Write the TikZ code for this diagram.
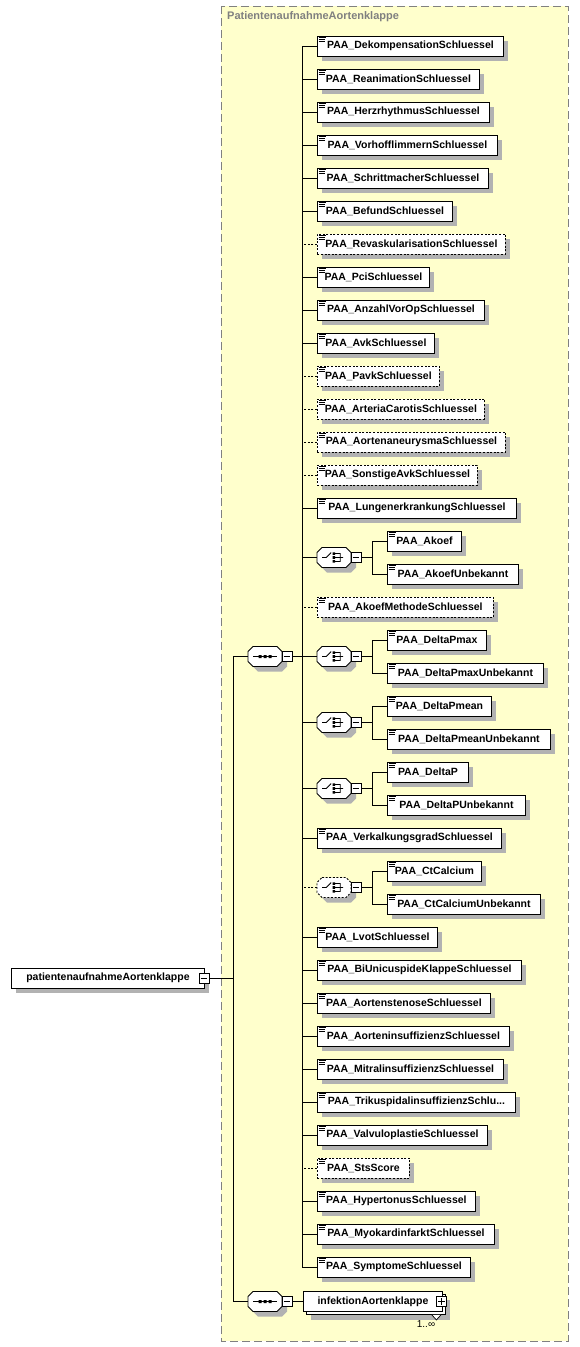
\documentclass[tikz,border=0pt]{standalone}
\usepackage{fontspec}
\setmainfont{Liberation Sans}
\definecolor{bgyellow}{RGB}{255,255,204}
\definecolor{framegray}{RGB}{128,128,128}
\definecolor{dropgray}{RGB}{178,178,178}
\tikzset{
  conn/.style={line width=0.9pt},
  optional/.style={dash pattern=on 2pt off 1.6pt},
  boxbase/.style={draw, fill=white, line width=0.9pt, minimum height=20pt, inner sep=0pt, anchor=west, font=\bfseries\fontsize{10.5}{12}\selectfont},
  octanchor/.style={draw=none, minimum width=34pt, minimum height=20pt, inner sep=0pt, anchor=west},
  octaline/.style={draw, fill=white, line width=0.9pt},
  togglebox/.style={draw, fill=white, line width=0.8pt, minimum size=10pt, inner sep=0pt},
  mark line/.style={line width=0.8pt},
}
\newcommand\boxshadow[3]{\fill[dropgray] (#1+5,#2-5) rectangle (#1+#3+5,#2+15);}
\newcommand\octpath[2]{(#1+5,#2-10) -- (#1+29,#2-10) -- (#1+34,#2-5) -- (#1+34,#2+5) -- (#1+29,#2+10) -- (#1+5,#2+10) -- (#1,#2+5) -- (#1,#2-5) -- cycle}
\newcommand\octnode[4][]{%
  \fill[dropgray] \octpath{#3+5}{#4+5};
  \path[octaline,#1] \octpath{#3}{#4};
  \node[octanchor] (#2) at (#3,#4) {};}
\newcommand\elicon[1]{\draw[line width=0.5pt] ([shift={(1.5,2)}]#1.north west) -- ++(7,0) ([shift={(1.5,4)}]#1.north west) -- ++(6,0) ([shift={(1.5,6)}]#1.north west) -- ++(6,0);}
\newcommand\mel[5][]{%
  \boxshadow{317}{#3}{#4}
  \node[boxbase,#1,minimum width=#4pt] (#2) at (317,#3) {#5};
  \elicon{#2}
  \draw[conn,#1] (#2.west) -- (#2.west -| spine);}
\newcommand\sel[4]{%
  \boxshadow{387}{#2}{#3}
  \node[boxbase,minimum width=#3pt] (#1) at (387,#2) {#4};
  \elicon{#1}}
\newcommand\minusbox[2]{\node[togglebox] (#1) at #2 {};
  \draw[mark line] ([xshift=2pt]#1.west) -- ([xshift=-2pt]#1.east);}
\newcommand\plusbox[2]{\node[togglebox] (#1) at #2 {};
  \draw[mark line] ([xshift=2pt]#1.west) -- ([xshift=-2pt]#1.east)
    ([yshift=2pt]#1.south) -- ([yshift=-2pt]#1.north);}
\newcommand\choiceicon[1]{%
  \draw[line width=0.8pt] ([shift={(-12,0)}]#1.center) -- ++(4,0) -- ++(5,-5)
    ([shift={(1,-4)}]#1.center) -- ++(5,0) -- ++(0,8) -- ++(-5,0)
    ([shift={(1,0)}]#1.center) -- ++(8,0);
  \fill ([shift={(-1.7,-5.2)}]#1.center) rectangle ++(2.6,2.6)
        ([shift={(-1.7,-1.3)}]#1.center) rectangle ++(2.6,2.6)
        ([shift={(-1.7,2.6)}]#1.center) rectangle ++(2.6,2.6);}
\newcommand\seqicon[1]{%
  \draw[line width=0.8pt] ([shift={(-12,0)}]#1.center) -- ++(24,0);
  \fill ([shift={(-6.5,-1.5)}]#1.center) rectangle ++(3,3)
        ([shift={(-1.5,-1.5)}]#1.center) rectangle ++(3,3)
        ([shift={(3.5,-1.5)}]#1.center) rectangle ++(3,3);}
\newcommand\chc[9][]{%
  \octnode[#1]{#2}{317}{#3+16.5}
  \choiceicon{#2}
  \minusbox{#2m}{(356,#3+16.5)}
  \coordinate (#2j) at (372,#3+16.5);
  \draw[conn,#1] (#2.west) -- (#2.west -| spine);
  \draw[conn] (#2m.east) -- (#2j);
  \sel{#4}{#3}{#5}{#6}
  \sel{#7}{#3+33}{#8}{#9}
  \draw[conn] (#4.west) -- (#4.west -| #2j) -- (#7.west -| #2j) -- (#7.west);}
\begin{document}
\begin{tikzpicture}[x=1pt,y=-1pt]
\useasboundingbox (0,0) rectangle (579,1347);
\draw[framegray, fill=bgyellow, line width=1pt, dash pattern=on 8pt off 4pt] (221,6) rectangle (568,1341);
\node[anchor=west, text=framegray, font=\bfseries\fontsize{11}{13}\selectfont, inner sep=0pt] (title) at (227,17) {PatientenaufnahmeAortenklappe};
\coordinate (spine) at (302,0);
\coordinate (rspine) at (233,0);
\draw[conn] (302,46) -- (302,1267);
\mel{e1}{46}{186}{PAA\_DekompensationSchluessel}
\mel{e2}{79}{162}{PAA\_ReanimationSchluessel}
\mel{e3}{112}{172}{PAA\_HerzrhythmusSchluessel}
\mel{e4}{145}{180}{PAA\_VorhofflimmernSchluessel}
\mel{e5}{178}{171}{PAA\_SchrittmacherSchluessel}
\mel{e6}{211}{135}{PAA\_BefundSchluessel}
\mel[optional]{e7}{244}{188}{PAA\_RevaskularisationSchluessel}
\mel{e8}{277}{112}{PAA\_PciSchluessel}
\mel{e9}{310}{167}{PAA\_AnzahlVorOpSchluessel}
\mel{e10}{343}{117}{PAA\_AvkSchluessel}
\mel[optional]{e11}{376}{122}{PAA\_PavkSchluessel}
\mel[optional]{e12}{409}{167}{PAA\_ArteriaCarotisSchluessel}
\mel[optional]{e13}{442}{188}{PAA\_AortenaneurysmaSchluessel}
\mel[optional]{e14}{475}{160}{PAA\_SonstigeAvkSchluessel}
\mel{e15}{508}{199}{PAA\_LungenerkrankungSchluessel}
\chc{c1}{541}{akoef}{74}{PAA\_Akoef}{akoefu}{131}{PAA\_AkoefUnbekannt}
\mel[optional]{e17}{607}{176}{PAA\_AkoefMethodeSchluessel}
\chc{c2}{640}{dpmax}{99}{PAA\_DeltaPmax}{dpmaxu}{156}{PAA\_DeltaPmaxUnbekannt}
\chc{c3}{706}{dpmean}{104}{PAA\_DeltaPmean}{dpmeanu}{163}{PAA\_DeltaPmeanUnbekannt}
\chc{c4}{772}{dp}{81}{PAA\_DeltaP}{dpu}{138}{PAA\_DeltaPUnbekannt}
\mel{e21}{838}{184}{PAA\_VerkalkungsgradSchluessel}
\chc[optional]{c5}{871}{ctc}{94}{PAA\_CtCalcium}{ctcu}{153}{PAA\_CtCalciumUnbekannt}
\mel{e23}{937}{120}{PAA\_LvotSchluessel}
\mel{e24}{970}{204}{PAA\_BiUnicuspideKlappeSchluessel}
\mel{e25}{1003}{173}{PAA\_AortenstenoseSchluessel}
\mel{e26}{1036}{192}{PAA\_AorteninsuffizienzSchluessel}
\mel{e27}{1069}{186}{PAA\_MitralinsuffizienzSchluessel}
\mel{e28}{1102}{198}{PAA\_TrikuspidalinsuffizienzSchlu...}
\mel{e29}{1135}{170}{PAA\_ValvuloplastieSchluessel}
\mel[optional]{e30}{1168}{92}{PAA\_StsScore}
\mel{e31}{1201}{158}{PAA\_HypertonusSchluessel}
\mel{e32}{1234}{177}{PAA\_MyokardinfarktSchluessel}
\mel{e33}{1267}{153}{PAA\_SymptomeSchluessel}
\octnode{s1}{248}{656.5}
\seqicon{s1}
\minusbox{s1m}{(287,656.5)}
\draw[conn] (s1m.east) -- (s1m.east -| spine);
\octnode{s2}{248}{1301.5}
\seqicon{s2}
\minusbox{s2m}{(287,1301.5)}
\boxshadow{306}{1304.5}{139}
\node[boxbase, minimum width=139pt] (infb) at (306,1304.5) {};
\node[boxbase, minimum width=139pt] (inf) at (303,1301.5) {infektionAortenklappe};
\plusbox{infp}{(441.5,1301.5)}
\draw[line width=0.7pt, fill=white] ([shift={(-14,0)}]infb.south east) -- ++(4.5,5) -- ++(4.5,-5);
\node[font=\fontsize{10}{12}\selectfont, inner sep=0pt] (mult) at (426,1324) {1..∞};
\draw[conn] (s2m.east) -- (inf.west);
\boxshadow{11}{978}{193}
\node[boxbase, minimum width=193pt] (root) at (11,978) {patientenaufnahmeAortenklappe};
\minusbox{rootm}{(204,978)}
\draw[conn] (rootm.east) -- (rootm.east -| rspine);
\draw[conn] (s1.west -| rspine) -- (s2.west -| rspine);
\draw[conn] (s1.west) -- (s1.west -| rspine);
\draw[conn] (s2.west) -- (s2.west -| rspine);
\end{tikzpicture}
\end{document}
